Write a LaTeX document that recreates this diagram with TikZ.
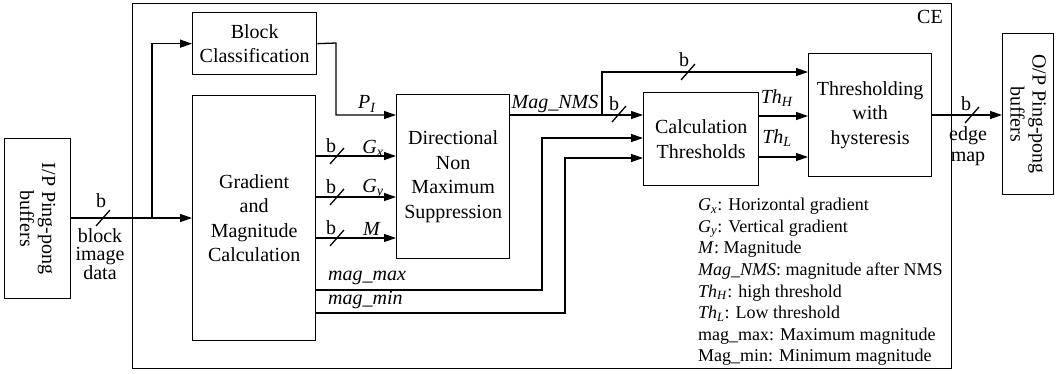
\documentclass[tikz,border=0pt]{standalone}
\usepackage{fontspec}
\setmainfont{Liberation Serif}
\usetikzlibrary{arrows.meta,calc}
\newcommand{\isub}[2]{\textit{#1}\textsubscript{\textit{#2}}}
\begin{document}
\begin{tikzpicture}[x=1pt,y=-1pt,
  box/.style={draw,line width=1.3pt,anchor=north west,inner sep=0pt,align=center,
              font=\fontsize{20}{24.5}\selectfont},
  wire/.style={line width=1.3pt},
  arr/.style={wire,-{Triangle[length=12pt,width=8pt]}},
  slash/.style={line width=1.3pt},
  lab/.style={font=\fontsize{20}{22}\selectfont,inner sep=0pt},
  leg/.style={font=\fontsize{18}{21}\selectfont,inner sep=0pt,anchor=base west},
]
\useasboundingbox (0,0) rectangle (1057,373);

% boxes
\node[box,minimum width=819pt,minimum height=365pt] (ce) at (132,3) {};
\node[lab] (celab) at (930,17) {CE};
\node[box,minimum width=66pt,minimum height=160pt] (ip) at (4,138) {};
\node[lab,rotate=-90,align=center] (iptxt) at (ip.center) {I/P Ping-pong\\buffers};
\node[box,minimum width=51pt,minimum height=161pt] (op) at (1002,33) {};
\node[lab,rotate=-90,align=center] (optxt) at (op.center) {O/P Ping-pong\\buffers};
\node[box,minimum width=124pt,minimum height=62pt] (bc) at (192,12) {Block\\Classification};
\node[box,minimum width=123pt,minimum height=245pt] (gm) at (192,95) {Gradient\\and\\Magnitude\\Calculation};
\node[box,minimum width=113pt,minimum height=164pt] (dn) at (396,94) {Directional\\Non\\Maximum\\Suppression};
\node[box,minimum width=115pt,minimum height=93pt] (ct) at (643,92) {Calculation\\Thresholds};
\node[box,minimum width=123pt,minimum height=123pt] (th) at (808,53) {Thresholding\\with\\hysteresis};

% coordinates
\coordinate (split) at (152,218);
\coordinate (pturn) at (336,43);
\coordinate (pdown) at (336,115);
\coordinate (pin) at (396,115);
\coordinate (nsplit) at (602,115);
\coordinate (nup) at (602,72);
\coordinate (mxturn) at (542,290);
\coordinate (mxup) at (542,138);
\coordinate (mnturn) at (565,313);
\coordinate (mnup) at (565,158);

% connectors
\draw[arr] (ip.east |- split) -- (gm.west |- split);
\draw[arr] (split) |- (bc.west);
\draw[arr] (bc.east) -- (pturn) -- (pdown) -- (pin);
\draw[arr] (gm.east |- 0,156) -- (dn.west |- 0,156);
\draw[arr] (gm.east |- 0,197) -- (dn.west |- 0,197);
\draw[arr] (gm.east |- 0,238) -- (dn.west |- 0,238);
\draw[arr] (dn.east |- nsplit) -- (ct.west |- nsplit);
\draw[arr] (nsplit) -- (nup) -- (th.west |- nup);
\draw[arr] (gm.east |- mxturn) -- (mxturn) -- (mxup) -- (ct.west |- mxup);
\draw[arr] (gm.east |- mnturn) -- (mnturn) -- (mnup) -- (ct.west |- mnup);
\draw[arr] (ct.east |- 0,116) -- (th.west |- 0,116);
\draw[arr] (ct.east |- 0,157) -- (th.west |- 0,157);
\draw[arr] (th.east |- 0,115) -- (op.west |- 0,115);

% bus slashes
\foreach \p in {(103,218),(337,156),(337,197),(337,238),(619,114),(688,72),(972,115)}
  \draw[slash] \p ++(-7,8) -- ++(14,-16);

% labels
\node[lab] (bin) at (101,201) {b};
\node[lab,align=center,font=\fontsize{20}{18.5}\selectfont] (bid) at (100,254) {block\\image\\data};
\node[lab] (bgx) at (331,146) {b};
\node[lab] (bgy) at (331,187) {b};
\node[lab] (bm) at (331,228) {b};
\node[lab] (lgx) at (373,148) {\isub{G}{x}};
\node[lab] (lgy) at (373,189) {\isub{G}{y}};
\node[lab] (lm) at (372,229) {\textit{M}};
\node[lab] (lp) at (367,104) {\isub{P}{I}};
\node[lab] (lnms) at (555,104) {\textit{Mag\_NMS}};
\node[lab] (bnms) at (614,104) {b};
\node[lab] (btop) at (684,60) {b};
\node[lab] (lth) at (777,98) {\isub{Th}{H}};
\node[lab] (ltl) at (777,138) {\isub{Th}{L}};
\node[lab] (bout) at (966,104) {b};
\node[lab,align=center,font=\fontsize{20}{21}\selectfont] (em) at (968,146) {edge\\map};
\node[lab,anchor=west] (lmax) at (328,278) {\textit{mag\_max}};
\node[lab,anchor=west] (lmin) at (328,300) {\textit{mag\_min}};

% legend
\node[leg] (g1) at (698,210.7) {\isub{G}{x}: Horizontal gradient};
\node[leg] (g2) at (698,232.3) {\isub{G}{y}: Vertical gradient};
\node[leg] (g3) at (698,253.9) {\textit{M}: Magnitude};
\node[leg] (g4) at (698,275.5) {\textit{Mag\_NMS}: magnitude after NMS};
\node[leg] (g5) at (698,297.1) {\isub{Th}{H}: high threshold};
\node[leg] (g6) at (698,318.7) {\isub{Th}{L}: Low threshold};
\node[leg] (g7) at (698,340.3) {mag\_max: Maximum magnitude};
\node[leg] (g8) at (698,361.9) {Mag\_min: Minimum magnitude};
\end{tikzpicture}
\end{document}
